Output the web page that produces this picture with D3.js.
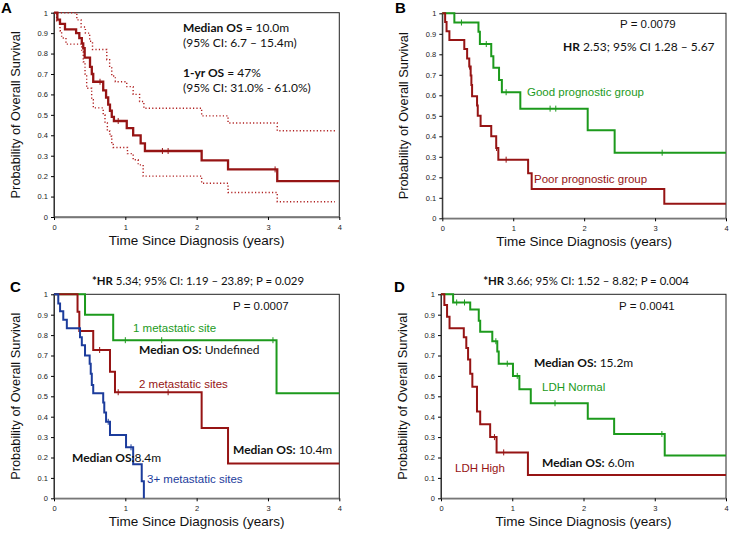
<!DOCTYPE html>
<html><head><meta charset="utf-8">
<script src="https://cdn.jsdelivr.net/npm/d3@7"></script>
<style>
body{margin:0;background:#fff;}
svg{display:block;}
.tick text{font-family:"Liberation Sans",Arial,sans-serif;}
</style></head>
<body>
<svg id="chart" width="733" height="534"></svg>
<script>
// ---------- data ----------
const xTicks = [0, 1, 2, 3, 4];
const xTickLabels = ["0", "1", "2", "3", "4"];
const yTicks = [0, 0.1, 0.2, 0.3, 0.4, 0.5, 0.6, 0.7, 0.8, 0.9, 1];
const yTickLabels = ["0", "0.1", "0.2", "0.3", "0.4", "0.5", "0.6", "0.7", "0.8", "0.9", "1"];

// Panel A: overall
const aTimes = [0, 0.047, 0.084, 0.154, 0.31, 0.355, 0.39, 0.41, 0.43, 0.505, 0.53, 0.55, 0.69, 0.73, 0.76, 0.785, 0.81, 0.84, 1.02, 1.11, 1.215, 1.275, 2.07, 2.44, 3.13, 4];
const aSurv  = [1, 0.966, 0.945, 0.918, 0.9, 0.876, 0.85, 0.826, 0.78, 0.735, 0.70, 0.662, 0.62, 0.585, 0.55, 0.52, 0.49, 0.47, 0.435, 0.40, 0.36, 0.323, 0.277, 0.233, 0.176, 0.176];
const aCensor = [0.645, 0.9, 1.52, 1.6, 3.1];
const aUpperTimes = [0, 0.32, 0.38, 0.44, 0.5, 0.54, 0.74, 0.78, 0.81, 0.86, 1.02, 1.11, 1.2, 1.26, 2.07, 2.44, 3.13, 3.94];
const aUpperSurv  = [1, 0.965, 0.93, 0.9, 0.86, 0.82, 0.77, 0.73, 0.69, 0.662, 0.638, 0.6, 0.565, 0.532, 0.495, 0.46, 0.422, 0.422];
const aLowerTimes = [0, 0.037, 0.084, 0.107, 0.168, 0.388, 0.41, 0.435, 0.458, 0.528, 0.551, 0.69, 0.715, 0.748, 0.785, 0.81, 0.83, 1.03, 1.11, 1.18, 1.25, 2.07, 2.44, 3.13, 3.94];
const aLowerSurv  = [1, 0.957, 0.912, 0.876, 0.846, 0.81, 0.76, 0.70, 0.63, 0.574, 0.534, 0.50, 0.46, 0.42, 0.395, 0.355, 0.34, 0.31, 0.28, 0.255, 0.2, 0.165, 0.12, 0.075, 0.075];

// Panel B: prognostic groups
const bGoodTimes = [0, 0.17, 0.51, 0.53, 0.69, 0.72, 0.8, 0.84, 1.1, 2.05, 2.43, 4];
const bGoodSurv  = [1, 0.955, 0.91, 0.85, 0.79, 0.735, 0.675, 0.615, 0.535, 0.43, 0.32, 0.32];
const bGoodCensor = [0.27, 0.62, 0.9, 1.52, 1.6, 3.1];
const bPoorTimes = [0, 0.04, 0.06, 0.1, 0.31, 0.35, 0.38, 0.4, 0.41, 0.42, 0.49, 0.5, 0.54, 0.69, 0.76, 0.79, 1.21, 1.26, 3.13, 4];
const bPoorSurv  = [1, 0.957, 0.913, 0.87, 0.826, 0.78, 0.74, 0.696, 0.65, 0.595, 0.55, 0.5, 0.45, 0.40, 0.343, 0.286, 0.22, 0.143, 0.071, 0.071];
const bPoorCensor = [0.385, 0.765, 0.9];

// Panel C: metastatic sites
const cOneTimes = [0, 0.435, 0.83, 3.12, 4];
const cOneSurv  = [1, 0.9, 0.775, 0.515, 0.515];
const cOneCensor = [1.0, 1.51, 3.07];
const cTwoTimes = [0, 0.33, 0.355, 0.55, 0.785, 0.855, 2.07, 2.44, 4];
const cTwoSurv  = [1, 0.915, 0.82, 0.727, 0.62, 0.52, 0.345, 0.17, 0.17];
const cTwoCensor = [0.64, 0.9, 1.6];
const cThreeTimes = [0, 0.06, 0.085, 0.13, 0.18, 0.365, 0.39, 0.435, 0.5, 0.515, 0.53, 0.55, 0.69, 0.705, 0.73, 0.785, 1.01, 1.11, 1.23, 1.26];
const cThreeSurv  = [1, 0.955, 0.917, 0.875, 0.833, 0.79, 0.75, 0.70, 0.66, 0.61, 0.555, 0.515, 0.47, 0.42, 0.375, 0.31, 0.25, 0.167, 0.083, 0];
const cThreeCensor = [0.76, 1.08];

// Panel D: LDH
const dNormalTimes = [0, 0.17, 0.41, 0.53, 0.55, 0.72, 0.79, 0.81, 1.01, 1.1, 1.26, 2.06, 2.43, 3.14, 4];
const dNormalSurv  = [1, 0.96, 0.925, 0.87, 0.817, 0.77, 0.72, 0.66, 0.6, 0.534, 0.466, 0.39, 0.315, 0.21, 0.21];
const dNormalCensor = [0.22, 0.33, 0.77, 0.93, 1.07, 1.6, 3.1];
const dHighTimes = [0, 0.047, 0.085, 0.12, 0.32, 0.355, 0.38, 0.41, 0.44, 0.505, 0.55, 0.69, 0.78, 1.22, 4];
const dHighSurv  = [1, 0.948, 0.89, 0.833, 0.79, 0.737, 0.68, 0.61, 0.547, 0.425, 0.363, 0.30, 0.225, 0.114, 0.114];
const dHighCensor = [0.75, 0.88];

// ---------- drawing ----------
const RED = "#961414", GREEN = "#1c9a1c", BLUE = "#1c3c9c";
const svg = d3.select("#chart");
const bodyFont = "Lato, 'Open Sans', sans-serif";
const arial = "'Liberation Sans', Arial, sans-serif";

function panel(cfg) {
  const x = d3.scaleLinear().domain([0, 4]).range([cfg.x0, cfg.x1]);
  const y = d3.scaleLinear().domain([0, 1]).range([cfg.y0, cfg.y1]);
  const g = svg.append("g");
  g.append("rect").attr("x", cfg.x0).attr("y", cfg.y1)
    .attr("width", cfg.x1 - cfg.x0).attr("height", cfg.y0 - cfg.y1)
    .attr("fill", "none").attr("stroke", "#222").attr("stroke-width", 1);
  const xa = g.append("g").attr("transform", `translate(0,${cfg.y0})`)
    .call(d3.axisBottom(x).tickValues(xTicks).tickFormat((d, i) => xTickLabels[i]).tickSize(3).tickSizeOuter(0));
  xa.select(".domain").attr("stroke", "#777").attr("stroke-width", 1.5);
  xa.selectAll("text").attr("font-size", 7.5).attr("dy", "0.9em").attr("fill", "#222");
  const ya = g.append("g").attr("transform", `translate(${cfg.x0},0)`)
    .call(d3.axisLeft(y).tickValues(yTicks).tickFormat((d, i) => yTickLabels[i]).tickSize(3).tickSizeOuter(0));
  ya.select(".domain").attr("stroke", "#333");
  ya.selectAll("text").attr("font-size", 7.5).attr("fill", "#222");
  g.append("text").attr("x", (cfg.x0 + cfg.x1) / 2).attr("y", cfg.y0 + 28)
    .attr("text-anchor", "middle").attr("font-family", arial).attr("font-size", 13.5)
    .attr("fill", "#111").text("Time Since Diagnosis (years)");
  g.append("text").attr("transform", `translate(${cfg.x0 - 34},${(cfg.y0 + cfg.y1) / 2}) rotate(-90)`)
    .attr("text-anchor", "middle").attr("font-family", arial).attr("font-size", 12.8)
    .attr("fill", "#111").text("Probability of Overall Survival");
  g.append("text").attr("x", cfg.lx).attr("y", cfg.ly).attr("font-family", arial)
    .attr("font-weight", "bold").attr("font-size", 15).attr("fill", "#000").text(cfg.letter);
  return {g, x, y};
}

function stepVal(times, surv, t) {
  let v = surv[0];
  for (let i = 0; i < times.length; i++) if (times[i] <= t) v = surv[i];
  return v;
}

function curve(p, times, surv, censor, color, width, dash) {
  const pts = times.map((t, i) => [t, surv[i]]);
  const line = d3.line().x(d => p.x(d[0])).y(d => p.y(d[1])).curve(d3.curveStepAfter);
  const path = p.g.append("path").attr("d", line(pts)).attr("fill", "none")
    .attr("stroke", color).attr("stroke-width", width);
  if (dash) path.attr("stroke-dasharray", dash);
  if (censor) {
    p.g.selectAll(null).data(censor).enter().append("line")
      .attr("x1", d => p.x(d)).attr("x2", d => p.x(d))
      .attr("y1", d => p.y(stepVal(times, surv, d)) - 3)
      .attr("y2", d => p.y(stepVal(times, surv, d)) + 3)
      .attr("stroke", color).attr("stroke-width", 1);
  }
}

function rich(g, x, y, parts, size, anchor) {
  const t = g.append("text").attr("x", x).attr("y", y).attr("font-family", bodyFont)
    .attr("font-size", size).attr("fill", "#111");
  if (anchor) t.attr("text-anchor", anchor);
  parts.forEach(([s, b]) => t.append("tspan").attr("font-weight", b ? "bold" : "normal").text(s));
  return t;
}
function plain(g, x, y, s, color, size) {
  return g.append("text").attr("x", x).attr("y", y).attr("font-family", arial)
    .attr("font-size", size || 11.5).attr("fill", color).text(s);
}

// Panel A
const pA = panel({x0: 54, x1: 339.3, y0: 217, y1: 12.7, letter: "A", lx: 1, ly: 13});
curve(pA, aUpperTimes, aUpperSurv, null, "#b02020", 1.4, "1.2,2.2");
curve(pA, aLowerTimes, aLowerSurv, null, "#b02020", 1.4, "1.2,2.2");
curve(pA, aTimes, aSurv, aCensor, RED, 2.3);
rich(pA.g, 183, 32, [["Median OS", true], [" = 10.0m", false]], 12);
rich(pA.g, 183, 47, [["(95% CI: 6.7 \u2013 15.4m)", false]], 12);
rich(pA.g, 183, 77, [["1-yr OS", true], [" = 47%", false]], 12);
rich(pA.g, 183, 92, [["(95% CI: 31.0% - 61.0%)", false]], 12);

// Panel B
const pB = panel({x0: 442.3, x1: 726, y0: 218.3, y1: 13.3, letter: "B", lx: 395, ly: 13});
curve(pB, bGoodTimes, bGoodSurv, bGoodCensor, GREEN, 2);
curve(pB, bPoorTimes, bPoorSurv, bPoorCensor, RED, 2);
plain(pB.g, 620, 28, "P = 0.0079", "#111", 11.5);
rich(pB.g, 563, 51, [["HR", true], [" 2.53; 95% CI 1.28 \u2013 5.67", false]], 12);
plain(pB.g, 527, 96, "Good prognostic group", GREEN, 11.5);
plain(pB.g, 534, 183, "Poor prognostic group", RED, 11.5);

// Panel C
const pC = panel({x0: 54, x1: 339.3, y0: 498.3, y1: 294.3, letter: "C", lx: 10, ly: 292});
curve(pC, cOneTimes, cOneSurv, cOneCensor, GREEN, 2);
curve(pC, cTwoTimes, cTwoSurv, cTwoCensor, RED, 2);
curve(pC, cThreeTimes, cThreeSurv, cThreeCensor, BLUE, 2);
rich(pC.g, 198, 285, [["*HR", true], [" 5.34; 95% CI: 1.19 \u2013 23.89; P = 0.029", false]], 11.4, "middle");
plain(pC.g, 233, 310, "P = 0.0007", "#111", 11.5);
plain(pC.g, 133, 332, "1 metastatic site", GREEN, 11.5);
rich(pC.g, 139, 354, [["Median OS:", true], [" Undefined", false]], 12);
plain(pC.g, 139, 388, "2 metastatic sites", RED, 11.5);
rich(pC.g, 233, 454, [["Median OS:", true], [" 10.4m", false]], 12);
rich(pC.g, 72, 462, [["Median OS:", true], ["8.4m", false]], 12);
plain(pC.g, 147, 483, "3+ metastatic sites", BLUE, 11.5);

// Panel D
const pD = panel({x0: 441, x1: 726, y0: 498.3, y1: 294.3, letter: "D", lx: 394, ly: 292});
curve(pD, dNormalTimes, dNormalSurv, dNormalCensor, GREEN, 2);
curve(pD, dHighTimes, dHighSurv, dHighCensor, RED, 2);
rich(pD.g, 586, 285, [["*HR", true], [" 3.66; 95% CI: 1.52 \u2013 8.82; P = 0.004", false]], 11.4, "middle");
plain(pD.g, 619, 310, "P = 0.0041", "#111", 11.5);
rich(pD.g, 534, 367, [["Median OS:", true], [" 15.2m", false]], 12);
plain(pD.g, 542, 391, "LDH Normal", GREEN, 11.5);
rich(pD.g, 542, 467, [["Median OS:", true], [" 6.0m", false]], 12);
plain(pD.g, 455, 472, "LDH High", RED, 11.5);
</script>
</body></html>
